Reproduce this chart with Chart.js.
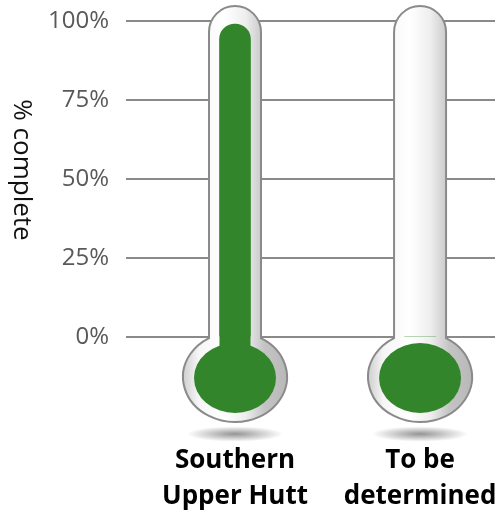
<!DOCTYPE html>
<html>
<head>
<meta charset="utf-8">
<script src="https://cdn.jsdelivr.net/npm/chart.js@4/dist/chart.umd.min.js"></script>
<style>
  html, body { margin: 0; padding: 0; background: #fff; overflow: hidden; }
  #wrap { width: 500px; height: 512px; }
</style>
</head>
<body>
<div id="wrap"><canvas id="thermoChart"></canvas></div>
<script>
const categories = [['Southern', 'Upper Hutt'], ['To be', 'determined']];
const percentComplete = [99, 0];
const yTicks = [0, 25, 50, 75, 100];
const axisTitle = '% complete';

const green = '#33852b';
const glassLine = '#8a8a8a';

// glass tube + bulb, drawn behind the green fill
const thermometerPlugin = {
    id: 'thermometer',
    beforeDatasetsDraw(chart) {
        const ctx = chart.ctx;
        const xs = chart.scales.x, ys = chart.scales.y;
        const yTop = ys.getPixelForValue(100);
        const yBase = ys.getPixelForValue(0);

        categories.forEach((c, i) => {
            const cx = xs.getPixelForValue(i);
            const r = 26;
            const top = yTop - 15;
            const bcy = yBase + 40, brx = 52, bry = 45;
            const joinY = bcy - bry * Math.sqrt(1 - (r / brx) ** 2);

            // shadow under bulb
            ctx.save();
            ctx.translate(cx, bcy + bry + 12);
            ctx.scale(1, 0.16);
            const sg = ctx.createRadialGradient(0, 0, 0, 0, 0, 48);
            sg.addColorStop(0, 'rgba(0,0,0,0.42)');
            sg.addColorStop(1, 'rgba(0,0,0,0)');
            ctx.fillStyle = sg;
            ctx.beginPath();
            ctx.arc(0, 0, 48, 0, Math.PI * 2);
            ctx.fill();
            ctx.restore();

            ctx.save();
            ctx.beginPath();
            ctx.moveTo(cx - r, joinY);
            ctx.lineTo(cx - r, top + r);
            ctx.arc(cx, top + r, r, Math.PI, 0);
            ctx.lineTo(cx + r, joinY);
            ctx.ellipse(cx, bcy, brx, bry, 0, -Math.PI / 3, Math.PI * 4 / 3);
            ctx.closePath();
            const g = ctx.createLinearGradient(cx - brx, 0, cx + brx, 0);
            g.addColorStop(0, '#cfcfcf');
            g.addColorStop(0.15, '#f6f6f6');
            g.addColorStop(0.4, '#ffffff');
            g.addColorStop(0.6, '#eeeeee');
            g.addColorStop(0.78, '#c4c4c4');
            g.addColorStop(1, '#b8b8b8');
            ctx.fillStyle = g;
            ctx.fill();
            ctx.lineWidth = 2;
            ctx.strokeStyle = glassLine;
            ctx.stroke();

            // green bulb and neck
            ctx.fillStyle = green;
            if (percentComplete[i] > 0) {
                ctx.fillRect(cx - 15.5, yBase - 1, 31, bcy - yBase);
            }
            ctx.beginPath();
            ctx.ellipse(cx, bcy + 1, 41, 35, 0, 0, Math.PI * 2);
            ctx.fill();
            ctx.restore();
        });
    },
    afterDraw(chart) {
        const ctx = chart.ctx;
        ctx.save();
        ctx.translate(21, 170);
        ctx.rotate(Math.PI / 2);
        ctx.font = '26px "Open Sans"';
        ctx.fillStyle = '#111';
        ctx.textAlign = 'center';
        ctx.textBaseline = 'middle';
        ctx.fillText(axisTitle, 0, 0);
        ctx.restore();
    }
};

const ctx = document.getElementById('thermoChart').getContext('2d');
new Chart(ctx, {
    type: 'bar',
    data: {
        datasets: [{
            data: percentComplete.map((v, i) => ({ x: i, y: v })),
            backgroundColor: green,
            barThickness: 31,
            borderRadius: { topLeft: 15.5, topRight: 15.5 },
            borderSkipped: 'bottom'
        }]
    },
    options: {
        responsive: true,
        maintainAspectRatio: false,
        animation: false,
        layout: { padding: { top: 21, right: 5, left: 0, bottom: 0 } },
        plugins: {
            legend: { display: false },
            tooltip: { enabled: false }
        },
        scales: {
            x: {
                type: 'linear',
                offset: false,
                min: -0.589,
                max: 1.405,
                afterBuildTicks: s => { s.ticks = categories.map((c, i) => ({ value: i })); },
                afterFit: s => { s.height = 175; s.paddingLeft = 0; s.paddingRight = 0; },
                grid: { display: false, drawTicks: false, offset: false },
                border: { display: false },
                ticks: {
                    autoSkip: false,
                    maxRotation: 0,
                    padding: 106,
                    color: '#000',
                    font: { family: 'Open Sans', size: 26, weight: 'bold', lineHeight: 1.38 },
                    callback: v => categories[v]
                }
            },
            y: {
                min: 0,
                max: 100,
                afterBuildTicks: s => { s.ticks = yTicks.map(v => ({ value: v })); },
                afterFit: s => { s.width = 126; s.paddingTop = 0; },
                grid: { color: glassLine, lineWidth: 2, drawTicks: false },
                border: { display: false },
                ticks: {
                    padding: 17,
                    color: '#595959',
                    font: { family: 'Open Sans', size: 24 },
                    callback: v => v + '%'
                }
            }
        }
    },
    plugins: [thermometerPlugin]
});
</script>
</body>
</html>
